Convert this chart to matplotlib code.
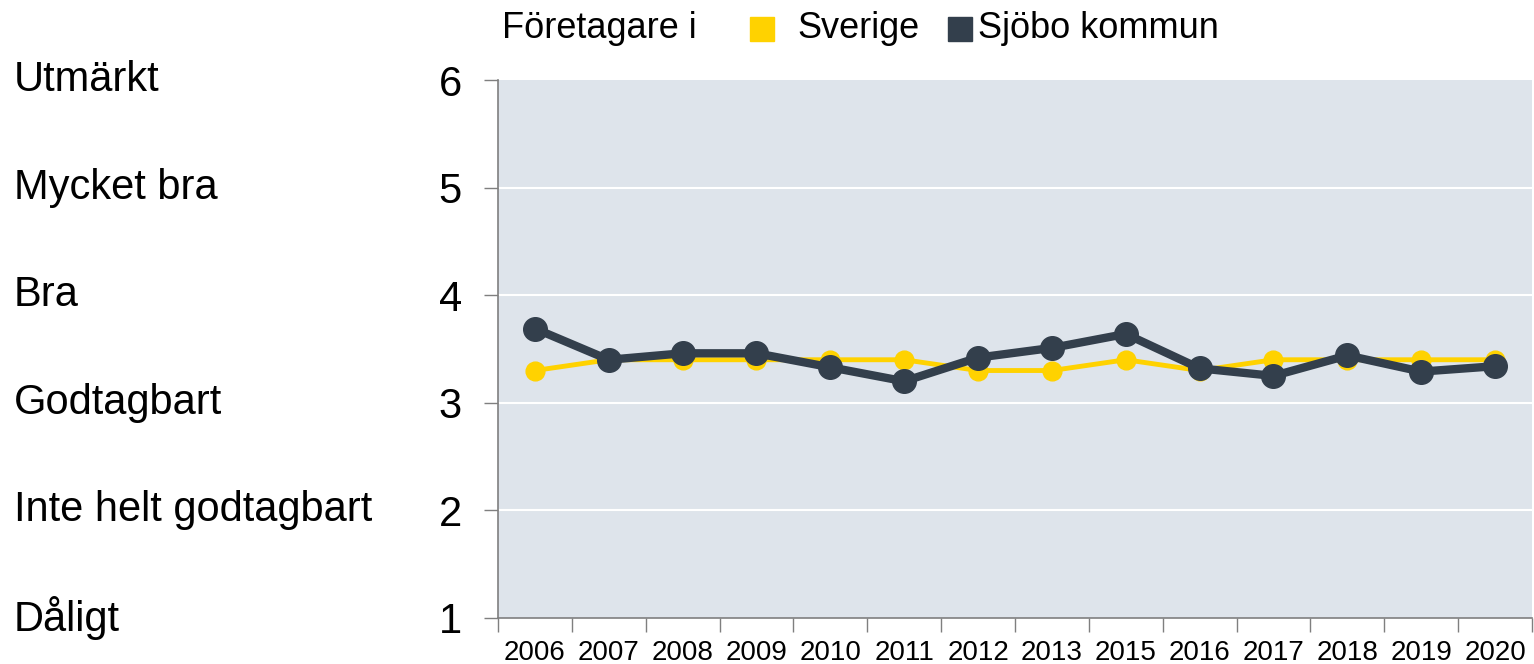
import matplotlib
matplotlib.use("Agg")
import matplotlib.pyplot as plt
import matplotlib.transforms as mtransforms
from matplotlib.lines import Line2D

plt.rcParams['font.family'] = ['Liberation Sans', 'DejaVu Sans']

# data
years = ['2006', '2007', '2008', '2009', '2010', '2011', '2012',
         '2013', '2015', '2016', '2017', '2018', '2019', '2020']
sverige = [3.3, 3.4, 3.4, 3.4, 3.4, 3.4, 3.3, 3.3, 3.4, 3.3, 3.4, 3.4, 3.4, 3.4]
sjobo = [3.69, 3.40, 3.46, 3.46, 3.33, 3.20, 3.42, 3.51, 3.64, 3.32, 3.25, 3.44, 3.29, 3.34]
grade_labels = ['Dåligt', 'Inte helt godtagbart', 'Godtagbart', 'Bra', 'Mycket bra', 'Utmärkt']
grade_values = [1, 2, 3, 4, 5, 6]

col_se = '#FFD200'
col_sj = '#333F4C'
bg = '#DEE4EB'
axis_col = '#7F7F7F'

fig = plt.figure(figsize=(15.34, 6.64), dpi=100)
ax = fig.add_axes([0.3246, 0.0693, 0.6741, 0.8102])
ax.set_facecolor(bg)

x = list(range(len(years)))
ax.plot(x, sverige, color=col_se, lw=3.5, marker='o', ms=13.5, mec=col_se, zorder=3)
ax.plot(x, sjobo, color=col_sj, lw=6, marker='o', ms=17, mec=col_sj, zorder=4)

ax.set_ylim(1, 6)
ax.set_xlim(-0.5, len(years) - 0.5)
ax.set_yticks(grade_values)
ax.set_yticklabels([str(v) for v in grade_values], fontsize=30)
ax.tick_params(axis='y', length=10, width=1, color=axis_col, pad=16)
for v in grade_values[1:-1]:
    ax.axhline(v, color='white', lw=1.5, zorder=1)

ax.set_xticks(x)
ax.set_xticklabels(years, fontsize=20)
ax.tick_params(axis='x', length=0, pad=16)
ax.set_xticks([i - 0.5 for i in range(len(years) + 1)], minor=True)
ax.tick_params(axis='x', which='minor', length=10, width=1, color=axis_col)

for s in ['top', 'right']:
    ax.spines[s].set_visible(False)
for s in ['left', 'bottom']:
    ax.spines[s].set_color(axis_col)
    ax.spines[s].set_linewidth(1.2)

# grade names on the far left
trans = mtransforms.blended_transform_factory(fig.transFigure, ax.transData)
for v, lab in zip(grade_values, grade_labels):
    ax.text(14 / 1534, v, lab, transform=trans, fontsize=30, va='center', ha='left')

# legend drawn by hand
ly = 1 - 29 / 664
fig.text(502 / 1534, ly, 'Företagare i', fontsize=26, va='center', ha='left')
fig.add_artist(Line2D([762 / 1534], [ly], marker='s', ms=17, color=col_se,
                      transform=fig.transFigure))
fig.text(797 / 1534, ly, 'Sverige', fontsize=26, va='center', ha='left')
fig.add_artist(Line2D([960 / 1534], [ly], marker='s', ms=17, color=col_sj,
                      transform=fig.transFigure))
fig.text(978 / 1534, ly, 'Sjöbo kommun', fontsize=26, va='center', ha='left')

fig.savefig('out.png', dpi=100)
